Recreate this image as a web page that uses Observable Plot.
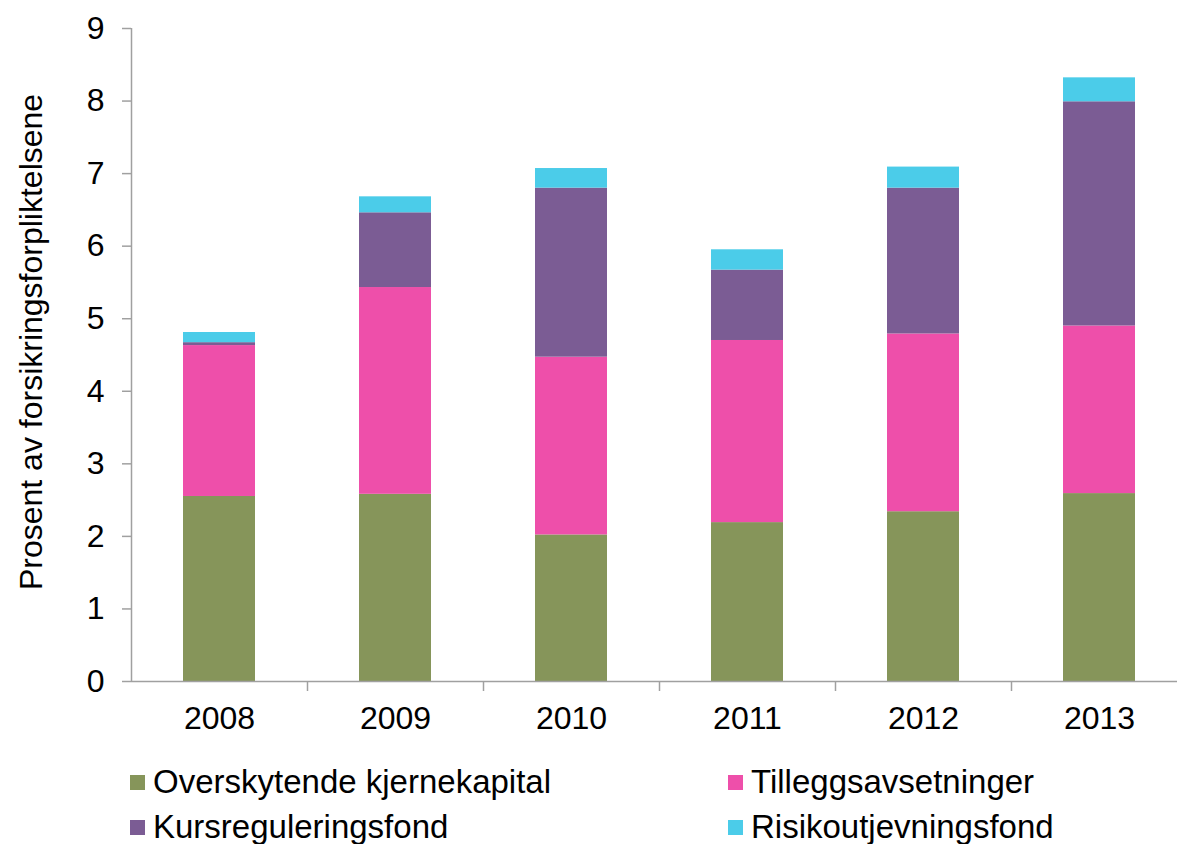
<!DOCTYPE html>
<html>
<head>
<meta charset="utf-8">
<script src="https://cdn.jsdelivr.net/npm/d3@7"></script>
<script src="https://cdn.jsdelivr.net/npm/@observablehq/plot@0.6"></script>
<style>
  html, body { margin: 0; padding: 0; background: #fff; }
  body { position: relative; width: 1177px; height: 844px; overflow: hidden; font-family: "Liberation Sans", Arial, sans-serif; }
  #chart { position: absolute; left: 0; top: 0; }
  .item { position: absolute; display: flex; align-items: center; font-size: 33px; color: #000; height: 32px; line-height: 32px; white-space: nowrap; }
  .sw { width: 15px; height: 15px; margin-right: 8px; }
</style>
</head>
<body>
<div id="chart"></div>
<div id="legend"></div>
<script>
const years = ["2008", "2009", "2010", "2011", "2012", "2013"];
const seriesNames = ["Overskytende kjernekapital", "Tilleggsavsetninger", "Kursreguleringsfond", "Risikoutjevningsfond"];
const colors = ["#86955A", "#EE4FAA", "#7B5C94", "#4BCCE9"];
const kjernekapital = [2.55, 2.58, 2.02, 2.19, 2.34, 2.59];
const tilleggsavsetninger = [2.08, 2.85, 2.45, 2.51, 2.45, 2.31];
const kursregulering = [0.04, 1.03, 2.33, 0.97, 2.01, 3.09];
const risikoutjevning = [0.14, 0.22, 0.27, 0.28, 0.29, 0.33];
const yTicks = [0, 1, 2, 3, 4, 5, 6, 7, 8, 9];
const yLabel = "Prosent av forsikringsforpliktelsene";

const seriesValues = [kjernekapital, tilleggsavsetninger, kursregulering, risikoutjevning];
const data = [];
seriesNames.forEach((s, j) => years.forEach((y, i) => data.push({year: y, series: s, value: seriesValues[j][i]})));

const W = 1177, H = 757, mL = 131, mT = 28, mB = 76;
const xEnd = 1187;
const step = (xEnd - mL) / years.length;
const axisColor = "#a0a0a0";

const chart = Plot.plot({
  width: W,
  height: H,
  marginLeft: mL,
  marginRight: 0,
  marginTop: mT,
  marginBottom: mB,
  style: {fontFamily: "'Liberation Sans', Arial, sans-serif", fontSize: "32px", color: "#000", background: "#fff", overflow: "hidden"},
  x: {domain: years, range: [mL, xEnd], paddingInner: 0.59, paddingOuter: 0.295, axis: null},
  y: {domain: [0, 9], axis: null},
  color: {domain: seriesNames, range: colors},
  marks: [
    Plot.barY(data, {x: "year", y: "value", fill: "series", order: seriesNames}),
    // y axis: line, ticks, labels
    Plot.ruleX([years[0]], {x: d => d, dx: -step / 2, y1: 0, y2: 9, stroke: axisColor, strokeWidth: 1.5}),
    Plot.axisY({ticks: yTicks, tickSize: 9, stroke: axisColor, strokeWidth: 1.5, text: null, label: null}),
    Plot.axisY({ticks: yTicks, tickSize: 0, tickPadding: 27, fill: "#000", fontSize: 32, label: null}),
    // x axis line
    Plot.ruleY([0], {stroke: axisColor, strokeWidth: 1.5}),
    // x ticks at category boundaries
    Plot.ruleX(years.slice(1), {x: d => d, dx: -step / 2, y1: 0, y2: 0, stroke: axisColor, strokeWidth: 1.5, insetBottom: -10}),
    Plot.text(years, {x: d => d, y: 0, dy: 37, text: d => d, fill: "#000", fontSize: 32, lineAnchor: "middle"}),
    Plot.text([{label: yLabel, mid: 4.68}], {frameAnchor: "left", dx: -mL + 31, y: "mid", rotate: -90, text: "label", textAnchor: "middle", lineAnchor: "middle", fill: "#000", fontSize: 32})
  ]
});
document.getElementById("chart").appendChild(chart);

const legend = document.getElementById("legend");
const positions = [[130, 766], [728, 766], [130, 811], [728, 811]];
seriesNames.forEach((s, i) => {
  const item = document.createElement("div");
  item.className = "item";
  item.style.left = positions[i][0] + "px";
  item.style.top = positions[i][1] + "px";
  const sw = document.createElement("span");
  sw.className = "sw";
  sw.style.background = colors[i];
  item.appendChild(sw);
  item.appendChild(document.createTextNode(s));
  legend.appendChild(item);
});
</script>
</body>
</html>
